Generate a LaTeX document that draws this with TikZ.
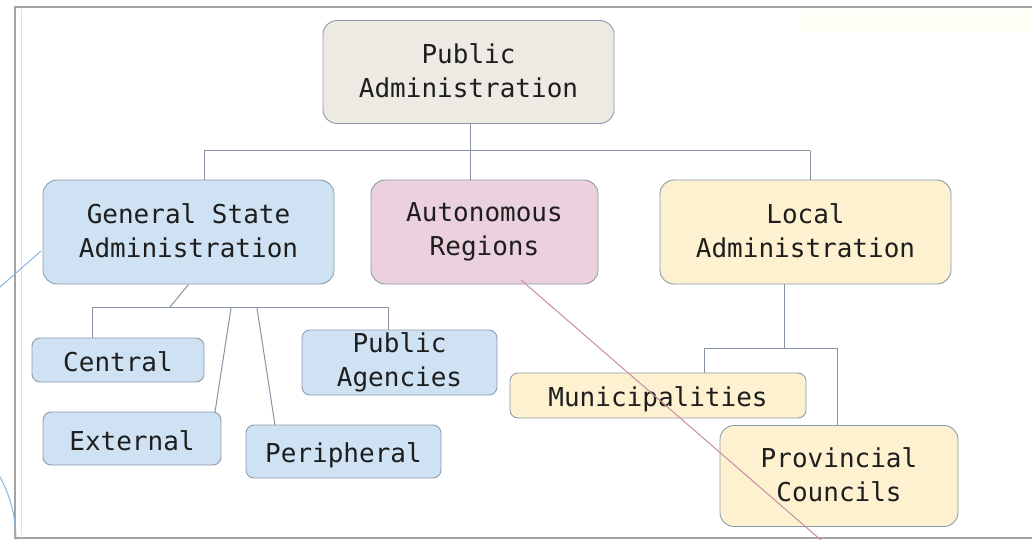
\documentclass[tikz,border=0pt]{standalone}
\usepackage{fontspec}
\newfontfamily\boxfont{DejaVu Sans Mono}
\definecolor{frameclr}{HTML}{A3A3A3}
\definecolor{edgeclr}{HTML}{8E9BAA}
\definecolor{lineclr}{HTML}{8794A6}
\definecolor{topfill}{HTML}{ECEAE2}
\definecolor{bluefill}{HTML}{CFE2F3}
\definecolor{pinkfill}{HTML}{EBD0DE}
\definecolor{yelfill}{HTML}{FDF1D0}
\definecolor{txtclr}{HTML}{1E1E1E}
\definecolor{penpink}{HTML}{C88CA8}
\definecolor{penblue}{HTML}{86B6E3}
% line strut: balances each text block inside its box
\newcommand\boxstrut{\rule[-3.5pt]{0pt}{30.5pt}}
\tikzset{
  orgbox/.style={draw=edgeclr, line width=0.9pt, rounded corners=14pt, align=center,
    text=txtclr, inner sep=0pt, font={\boxfont\fontsize{26}{34}\selectfont},
    execute at begin node=\boxstrut, execute at end node=\boxstrut},
  smallbox/.style={orgbox, rounded corners=8pt},
  link/.style={draw=lineclr, line width=1pt},
}
\begin{document}
\begin{tikzpicture}[x=1pt,y=-1pt]
\useasboundingbox (0,0) rectangle (1032,540);
\fill[white] (0,0) rectangle (1032,540);
% faint tint along the top right
\fill[yellow!3] (800,9) rectangle (1032,32);
% page frame
\draw[frameclr, line width=1.6pt] (1032,7) -- (15,7) -- (15,538) -- (1032,538);
\draw[black!12, line width=0.8pt] (21,9) -- (21,536);

% top level
\node[orgbox, fill=topfill, minimum width=291pt, minimum height=103pt] (pa) at (468.5,72) {Public\\Administration};

% second level
\node[orgbox, fill=bluefill, minimum width=291pt, minimum height=104pt] (gsa) at (188.5,232) {General State\\Administration};
\node[orgbox, fill=pinkfill, minimum width=227pt, minimum height=104pt] (ar) at (484.5,232) {Autonomous\\Regions};
\node[orgbox, fill=yelfill, minimum width=291pt, minimum height=104pt] (la) at (805.5,232) {Local\\Administration};

% state branches
\node[smallbox, fill=bluefill, minimum width=172pt, minimum height=44pt] (cen) at (118,360) {Central};
\node[smallbox, fill=bluefill, minimum width=178pt, minimum height=53pt] (ext) at (132,438.5) {External};
\node[smallbox, fill=bluefill, minimum width=195pt, minimum height=53pt] (per) at (343.5,451.5) {Peripheral};
\node[smallbox, fill=bluefill, minimum width=195pt, minimum height=65pt] (pag) at (399.5,362.5) {Public\\Agencies};

% local branches
\node[smallbox, fill=yelfill, minimum width=296pt, minimum height=45pt] (mun) at (658,395.5) {Municipalities};
\node[orgbox, fill=yelfill, minimum width=238pt, minimum height=101pt] (prov) at (839,476) {Provincial\\Councils};

% top-level bus
\coordinate (busL) at (204,151);
\coordinate (busM) at (470,151);
\coordinate (busR) at (810,151);
\draw[link] (busL) -- (busR);
\draw[link] (busM |- pa.south) -- (busM);
\draw[link] (busL) -- (busL |- gsa.north);
\draw[link] (busM) -- (busM |- ar.north);
\draw[link] (busR) -- (busR |- la.north);

% state bus
\coordinate (sJoin) at (170,307);
\coordinate (sL) at (92,307);
\coordinate (sR) at (388,307);
\coordinate (sExt) at (231,308);
\coordinate (sPer) at (257,308);
\draw[link] (gsa.south) -- (sJoin);
\draw[link] (sL) -- (sR);
\draw[link] (sL) -- (sL |- cen.north);
\draw[link] (sR) -- (sR |- pag.north);
\draw[link] (sExt) -- (215,412) coordinate (extTop);
\draw[link] (sPer) -- (275,425) coordinate (perTop);

% local bus
\coordinate (lDrop) at (784,348);
\coordinate (lL) at (704,348);
\coordinate (lR) at (837,348);
\draw[link] (lDrop |- la.south) -- (lDrop);
\draw[link] (lL) -- (lR);
\draw[link] (lL) -- (lL |- mun.north);
\draw[link] (lR) -- (lR |- prov.north);

% pen strokes over the chart
\coordinate (pinkA) at (521,280);
\coordinate (pinkB) at (822,541);
\draw[penpink, line width=1pt] (pinkA) -- (pinkB);
\coordinate (blueA) at (-1,288);
\coordinate (blueB) at (41,251);
\draw[penblue, line width=1pt] (blueA) -- (blueB);
\begin{scope}
\clip (0,0) rectangle (1032,540);
\draw[penblue, line width=1pt] (-116,540) circle[radius=132];
\end{scope}
\end{tikzpicture}
\end{document}
